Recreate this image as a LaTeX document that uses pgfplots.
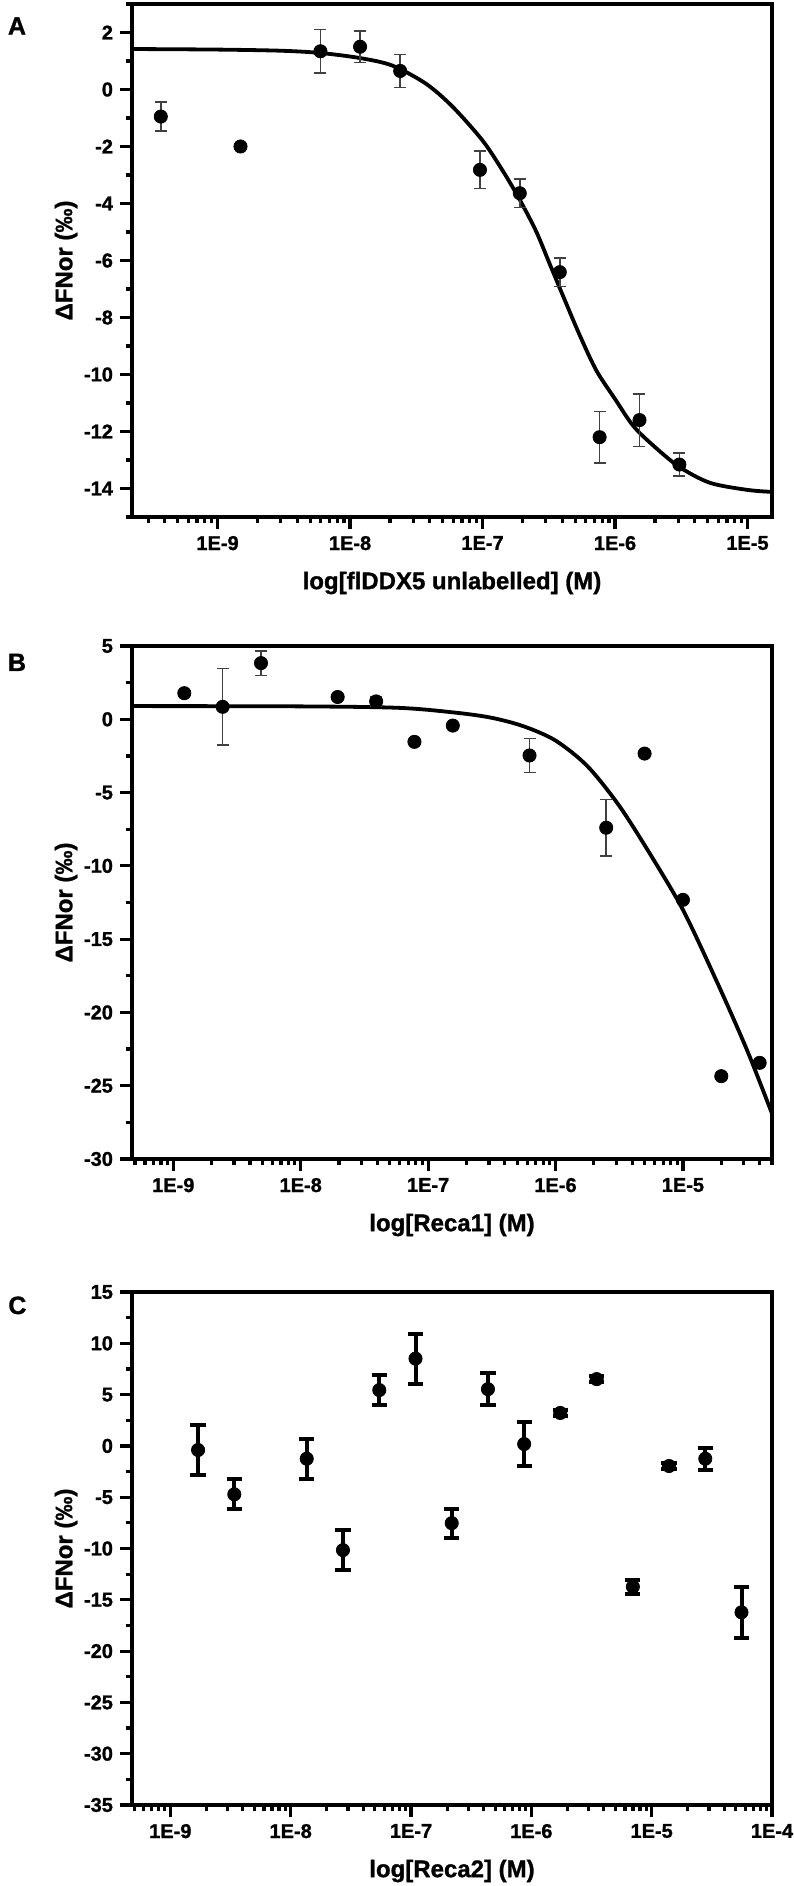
\documentclass[border=0pt]{standalone}
\usepackage{fontspec}
\setmainfont{Liberation Sans}[BoldFeatures={FakeBold=1.2}]
\usepackage{pgfplots}
\pgfplotsset{compat=1.18}

\newcommand{\lab}{\fontsize{12}{14}\selectfont}

% shared look of the three MST panels
\pgfplotsset{
  mstaxis/.style={
    scale only axis,
    width=320pt, height=256.5pt,
    anchor=south west,
    axis line style={line width=1.75pt},
    tick style={line width=1.6pt, black},
    tick align=outside,
    xtick pos=bottom, ytick pos=left,
    major tick length=6pt,
    minor tick length=3.2pt,
    every axis x label/.style={at={(axis description cs:0.5,0)}, anchor=center, yshift=-33pt},
    every axis y label/.style={at={(axis description cs:-0.103,0.5)}, anchor=center, rotate=90},
    ylabel={\lab ΔFNor (‰)},
    minor xtick={2e-10,3e-10,4e-10,5e-10,6e-10,7e-10,8e-10,9e-10,
                 2e-9,3e-9,4e-9,5e-9,6e-9,7e-9,8e-9,9e-9,
                 2e-8,3e-8,4e-8,5e-8,6e-8,7e-8,8e-8,9e-8,
                 2e-7,3e-7,4e-7,5e-7,6e-7,7e-7,8e-7,9e-7,
                 2e-6,3e-6,4e-6,5e-6,6e-6,7e-6,8e-6,9e-6,
                 2e-5,3e-5,4e-5,5e-5,6e-5,7e-5,8e-5,9e-5},
  },
  thinbars/.style={
    only marks, mark=*, mark size=3.3pt, mark options={fill=black, draw=black},
    error bars/y dir=both, error bars/y explicit,
    error bars/error bar style={line width=0.75pt, draw=black!75},
    error bars/error mark options={rotate=90, mark size=3pt, line width=0.75pt, draw=black!75},
  },
  thickbars/.style={
    only marks, mark=*, mark size=3.3pt, mark options={fill=black, draw=black},
    error bars/y dir=both, error bars/y explicit,
    error bars/error bar style={line width=2pt, draw=black},
    error bars/error mark options={rotate=90, mark size=3.8pt, line width=2pt, draw=black},
  },
  fitcurve/.style={no marks, smooth, line width=1.9pt, black},
}

\begin{document}
\begin{tikzpicture}[font=\bfseries\fontsize{10}{12}\selectfont]
\path[use as bounding box] (0,0) rectangle (396.5pt,943pt);

% ---------------- A: full-length DDX5 ----------------
\begin{axis}[xmode=log, mstaxis, at={(66pt,684.5pt)},
  xmin=2.26e-10, xmax=1.53e-5, ymin=-15, ymax=3,
  xtick={1e-9,1e-8,1e-7,1e-6,1e-5},
  xticklabels={1E-9,1E-8,1E-7,1E-6,1E-5},
  ytick={-14,-12,...,2},
  yticklabels={-14,-12,-10,-8,-6,-4,-2,0,2},
  minor ytick={-15,-13,...,3},
  xlabel={\lab log[flDDX5 unlabelled] (M)}]
\addplot[fitcurve] coordinates {
  (2.26e-10,1.42) (1e-9,1.40) (3e-9,1.36) (6e-9,1.28) (1.2e-8,1.10)
  (2.08e-8,0.84) (3.72e-8,0.21) (5.93e-8,-0.60) (1e-7,-1.79)
  (1.42e-7,-2.85) (1.90e-7,-3.85) (2.54e-7,-4.98) (3.20e-7,-6.10)
  (4.04e-7,-7.23) (5.40e-7,-8.61) (7.23e-7,-9.86) (1e-6,-10.86)
  (1.37e-6,-11.80) (1.94e-6,-12.49) (3.05e-6,-13.24) (5.2e-6,-13.80)
  (1e-5,-14.05) (1.53e-5,-14.12)};
\addplot[thinbars] coordinates {
  (3.73e-10,-0.95) +- (0,0.51)
  (1.49e-9,-2.00)  +- (0,0)
  (5.98e-9,1.34)   +- (0,0.76)
  (1.19e-8,1.50)   +- (0,0.56)
  (2.39e-8,0.65)   +- (0,0.58)
  (9.56e-8,-2.82)  +- (0,0.66)
  (1.91e-7,-3.64)  +- (0,0.50)
  (3.83e-7,-6.41)  +- (0,0.50)
  (7.65e-7,-12.20) +- (0,0.90)
  (1.53e-6,-11.60) +- (0,0.92)
  (3.06e-6,-13.16) +- (0,0.40)};
\end{axis}

% ---------------- B: Reca1 ----------------
\begin{axis}[xmode=log, mstaxis, at={(66pt,363.5pt)},
  xmin=4.74e-10, xmax=5e-5, ymin=-30, ymax=5,
  xtick={1e-9,1e-8,1e-7,1e-6,1e-5},
  xticklabels={1E-9,1E-8,1E-7,1E-6,1E-5},
  ytick={-30,-25,...,5},
  yticklabels={-30,-25,-20,-15,-10,-5,0,5},
  minor ytick={-27.5,-22.5,...,2.5},
  xlabel={\lab log[Reca1] (M)}]
\addplot[fitcurve] coordinates {
  (4.74e-10,0.90) (1e-8,0.88) (5.9e-8,0.78) (1.65e-7,0.45)
  (3.16e-7,0.10) (5.62e-7,-0.48) (1e-6,-1.45) (1.78e-6,-3.20)
  (3.16e-6,-5.90) (5.62e-6,-9.30) (1e-5,-13.00) (1.78e-5,-17.60)
  (3.16e-5,-22.50) (5e-5,-26.90)};
\addplot[thinbars] coordinates {
  (1.22e-9,1.78)    +- (0,0)
  (2.44e-9,0.85)    +- (0,2.60)
  (4.88e-9,3.83)    +- (0,0.84)
  (1.95e-8,1.52)    +- (0,0)
  (3.91e-8,1.22)    +- (0,0.30)
  (7.81e-8,-1.54)   +- (0,0)
  (1.5625e-7,-0.43) +- (0,0)
  (6.25e-7,-2.47)   +- (0,1.17)
  (2.5e-6,-7.40)    +- (0,1.93)
  (5e-6,-2.34)      +- (0,0)
  (1e-5,-12.32)     +- (0,0)
  (2e-5,-24.35)     +- (0,0)
  (4e-5,-23.44)     +- (0,0)};
\end{axis}

% ---------------- C: Reca2 ----------------
\begin{axis}[xmode=log, mstaxis, at={(66pt,40.5pt)},
  xmin=4.8e-10, xmax=1e-4, ymin=-35, ymax=15,
  xtick={1e-9,1e-8,1e-7,1e-6,1e-5,1e-4},
  xticklabels={1E-9,1E-8,1E-7,1E-6,1E-5,1E-4},
  ytick={-35,-30,...,15},
  yticklabels={-35,-30,-25,-20,-15,-10,-5,0,5,10,15},
  minor ytick={-32.5,-27.5,...,12.5},
  xlabel={\lab log[Reca2] (M)}]
\addplot[thickbars] coordinates {
  (1.7e-9,-0.40)   +- (0,2.45)
  (3.4e-9,-4.72)   +- (0,1.47)
  (1.36e-8,-1.25)  +- (0,1.94)
  (2.72e-8,-10.16) +- (0,1.96)
  (5.45e-8,5.44)   +- (0,1.45)
  (1.09e-7,8.51)   +- (0,2.43)
  (2.18e-7,-7.53)  +- (0,1.40)
  (4.36e-7,5.53)   +- (0,1.56)
  (8.72e-7,0.18)   +- (0,2.18)
  (1.74e-6,3.21)   +- (0,0.30)
  (3.49e-6,6.51)   +- (0,0.30)
  (6.98e-6,-13.73) +- (0,0.67)
  (1.395e-5,-1.96) +- (0,0.30)
  (2.79e-5,-1.25)  +- (0,1.05)
  (5.58e-5,-16.22) +- (0,2.47)};
\end{axis}

% panel letters
\node[font=\bfseries\fontsize{12.5}{15}\selectfont] at (8.5pt,930pt) {A};
\node[font=\bfseries\fontsize{12.5}{15}\selectfont] at (8.5pt,611.8pt) {B};
\node[font=\bfseries\fontsize{12.5}{15}\selectfont] at (8.7pt,290.3pt) {C};
\end{tikzpicture}
\end{document}
